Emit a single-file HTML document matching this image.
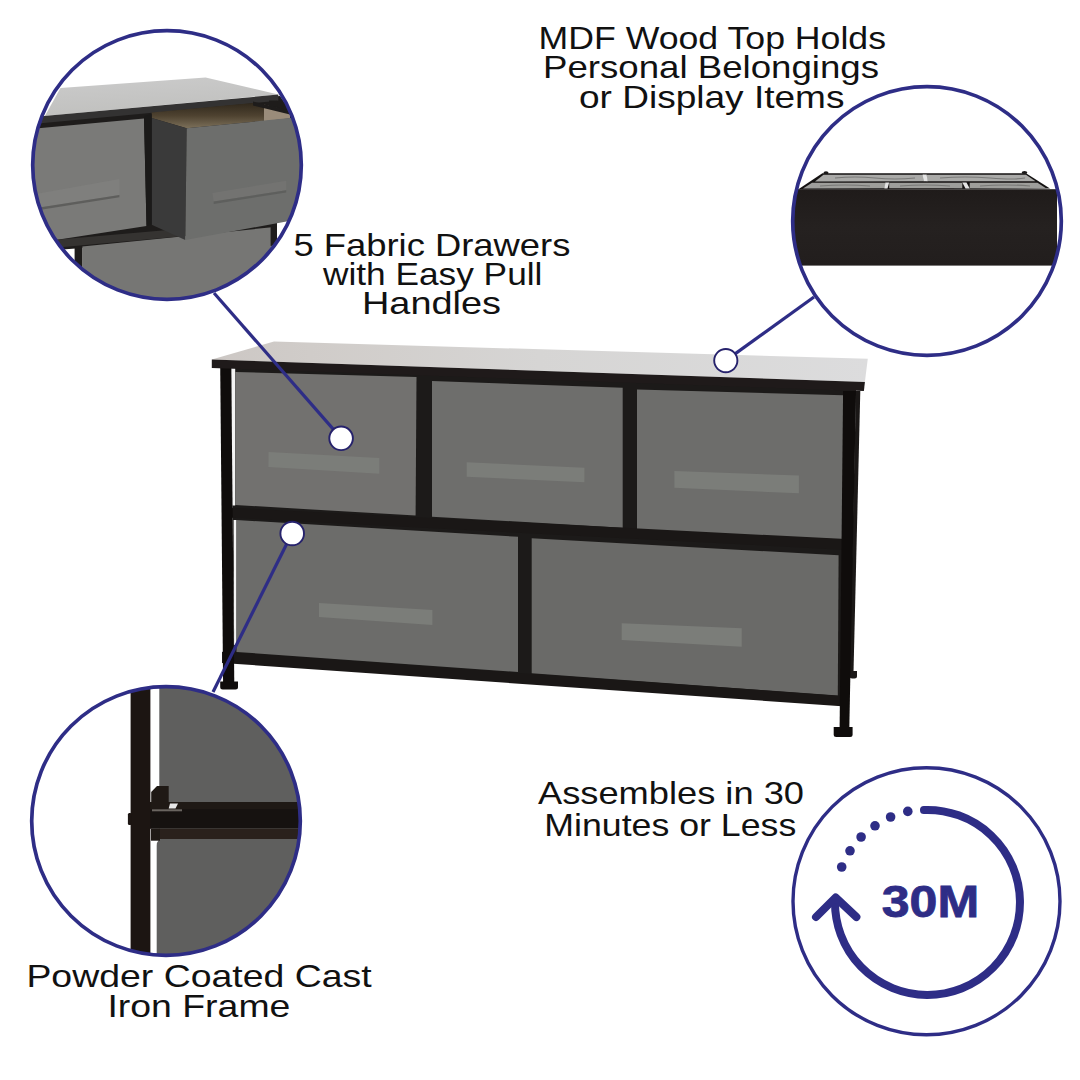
<!DOCTYPE html>
<html><head><meta charset="utf-8">
<style>
html,body{margin:0;padding:0;background:#fff;}
body{width:1080px;height:1080px;overflow:hidden;position:relative;font-family:"Liberation Sans",sans-serif;}
svg{position:absolute;left:0;top:0;}
.t{font-family:"Liberation Sans",sans-serif;fill:#111;font-size:31.5px;}
</style></head><body>
<svg width="1080" height="1080" viewBox="0 0 1080 1080">
<defs>
  <linearGradient id="topg" x1="0" y1="0" x2="1" y2="0">
    <stop offset="0" stop-color="#ccc7c4"/>
    <stop offset="0.15" stop-color="#d0ccc9"/>
    <stop offset="0.5" stop-color="#d6d5d4"/>
    <stop offset="1" stop-color="#dcdcdd"/>
  </linearGradient>
  <linearGradient id="c1top" x1="0" y1="0" x2="0.3" y2="1">
    <stop offset="0" stop-color="#cbcbcb"/>
    <stop offset="1" stop-color="#c0c0be"/>
  </linearGradient>
  <linearGradient id="c2band" x1="0" y1="0" x2="0" y2="1">
    <stop offset="0" stop-color="#1f1b1a"/>
    <stop offset="0.5" stop-color="#252120"/>
    <stop offset="1" stop-color="#221e1d"/>
  </linearGradient>
  <linearGradient id="c1int" x1="0" y1="0" x2="0" y2="1">
    <stop offset="0" stop-color="#30281c"/>
    <stop offset="0.5" stop-color="#4e4230"/>
    <stop offset="1" stop-color="#7c705a"/>
  </linearGradient>
  <clipPath id="c1"><circle cx="167" cy="165" r="134"/></clipPath>
  <clipPath id="c2"><circle cx="927" cy="221" r="134"/></clipPath>
  <clipPath id="c3"><circle cx="166" cy="821" r="134"/></clipPath>
</defs>

<!-- ============ MAIN DRESSER ============ -->
<g id="dresser">
  <!-- back right leg + foot -->
  <polygon points="856,391 860.3,391 853.5,672 849.3,672" fill="#1b1817"/>
  <path d="M849.6,671 h7.4 v5 q0,2.5 -2.5,2.5 h-2.4 q-2.5,0 -2.5,-2.5z" fill="#1b1817"/>
  <!-- back fill (frame interior) -->
  <polygon points="231,366 856,390 849,702 234,660" fill="#1c1a19"/>
  <!-- white gaps near left leg -->
  <polygon points="231.2,368 235.2,368 235.2,505.5 231.5,505.5" fill="#f4f4f4"/>
  <polygon points="233.6,520 236.5,520 236.5,645 234.1,645" fill="#f4f4f4"/>
  <!-- drawers top row -->
  <polygon points="235.2,372 416.5,377 415.6,515.6 235.2,505" fill="#72716f"/>
  <polygon points="432,381 622.7,387.8 622.7,527.8 432,516.7" fill="#6e6e6c"/>
  <polygon points="637,389.5 843.1,395.3 843.3,539.6 637,530" fill="#6d6d6b"/>
  <!-- drawers bottom row -->
  <polygon points="236.5,520 518,536.8 518,672 236.5,651.9" fill="#6c6c6a"/>
  <polygon points="531.7,538.3 838.6,555.3 837.8,695.6 531.7,673.3" fill="#6a6a68"/>
  <!-- handles -->
  <g fill="#7b7d79">
    <polygon points="268.6,452 379.3,458 379.3,473.7 268.4,467.1"/>
    <polygon points="466.7,462.2 584.4,467.8 584.4,482.2 466.7,476.7"/>
    <polygon points="674.4,471.1 798.9,475.6 798.9,493.3 674.4,487.8"/>
    <polygon points="319,602.9 432.4,610.1 432.4,624.9 319,617"/>
    <polygon points="621.7,623.3 741.7,628.3 741.7,646.7 621.7,640"/>
  </g>
  <!-- middle rail -->
  <polygon points="222,507.3 846,539.1 846,549.9 222,517.2" fill="#1a1716"/>
  <!-- bottom rail -->
  <polygon points="222,651.8 849,696.4 849,706.7 222,663" fill="#1a1716"/>
  <!-- left leg + foot -->
  <polygon points="220.2,366 231.2,366 234.3,684 223.1,684" fill="#0f0c0b"/>
  <path d="M220.2,681.5 h17.8 v5.6 q0,2.5 -2.5,2.5 h-12.8 q-2.5,0 -2.5,-2.5z" fill="#0f0c0b"/>
  <!-- right front leg + foot -->
  <polygon points="843.1,391 856,391 849.3,729 839.6,729" fill="#0f0c0b"/>
  <path d="M833.7,727 h18.9 v7.5 q0,2.5 -2.5,2.5 h-13.9 q-2.5,0 -2.5,-2.5z" fill="#0f0c0b"/>
  <!-- top board -->
  <polygon points="274,341.5 867.8,358.8 864.9,382 211.8,359.6" fill="url(#topg)"/>
  <polygon points="211.8,359.6 864.9,382 863.9,391.1 211.8,368" fill="#1f1a1a"/>
</g>

<!-- ============ CONNECTOR LINES ============ -->
<g stroke="#2e2d86" stroke-width="3.2" fill="none">
  <line x1="214" y1="293" x2="341.3" y2="438.4"/>
  <line x1="814" y1="297" x2="726" y2="360.4"/>
  <line x1="292" y1="533.3" x2="213" y2="692"/>
</g>
<g fill="#fff" stroke="#26226c" stroke-width="1.9">
  <circle cx="341.1" cy="438.3" r="11.8"/>
  <circle cx="725.8" cy="360.6" r="11.6"/>
  <circle cx="292.2" cy="533.5" r="11.8"/>
</g>

<!-- ============ CIRCLE 1 (drawers detail) ============ -->
<g clip-path="url(#c1)">
  <rect x="30" y="30" width="280" height="280" fill="#fff"/>
  <!-- top surface -->
  <polygon points="60.5,87.9 205.6,77.5 278.3,94.5 44.9,115.9" fill="url(#c1top)"/>
  <!-- cavity -->
  <polygon points="30,118 280,96 292,113 292,232 30,252" fill="#1e1c1b"/>
  <!-- top board front edge -->
  <polygon points="30,117.2 278.3,94.6 278.3,100.8 30,124.3" fill="#333232"/>
  <!-- closed drawer -->
  <polygon points="30,129 144,118.6 146.5,226 30,244" fill="#7a7a78"/>
  <polygon points="30,195 119.4,179 119.4,195 30,209" fill="#7f7f7d"/>
  <polygon points="30,209 119.4,195 119.4,197.2 30,211.5" fill="#5e5e5c"/>
  <!-- lower drawer -->
  <polygon points="82.2,246.4 271.9,227.3 272,310 82.2,310" fill="#767674"/>
  <polygon points="74.6,246 82.2,245.5 82.2,300 74.6,300" fill="#1e1c1b"/>
  <polygon points="270.6,222 277,221 277,245 270.6,246" fill="#1e1c1b"/>
  <polygon points="277,219 300,217 300,250 277,250" fill="#fff"/>
  <!-- rail below closed drawer -->
  <polygon points="30,242 185,228.5 185,236 30,250" fill="#353331"/>
  <!-- beige interior -->
  <polygon points="151.7,112.5 228,105.3 253,103 290,111.5 290,118.3 186.7,128.3 151.7,118" fill="url(#c1int)"/>
  <polygon points="264,104.5 290,111.5 290,118.3 264,121.2" fill="#9a8c7a"/>
  <polygon points="253,101.5 290,110.5 290,114.5 253,105.5" fill="#1e1c1b"/>
  <polygon points="269,100.5 277.5,100.5 277.5,106.7 269,106.7" fill="#1e1c1b"/>
  <!-- open drawer side -->
  <polygon points="151.7,118 186.7,128.3 185.3,240 151.7,224.7" fill="#3a3a3a"/>
  <!-- open drawer front -->
  <polygon points="186.7,128.3 300,117 300,219 185.3,240" fill="#6d6e6c"/>
  <polygon points="212.4,193 286.2,180.8 286.2,190.2 213.7,201.6" fill="#737371"/>
  <polygon points="213.7,201.6 286.2,190.2 286.2,192.5 213.7,204" fill="#5e5f5d"/>
  <!-- vertical gap between drawers -->
  <polygon points="144,116 151.7,114 151.7,224.7 146.5,226" fill="#1b1a19"/>
</g>
<circle cx="167" cy="165" r="134.3" fill="none" stroke="#2e2d86" stroke-width="3.7"/>

<!-- ============ CIRCLE 2 (top board edge) ============ -->
<g clip-path="url(#c2)">
  <rect x="790" y="85" width="275" height="275" fill="#fff"/>
  <!-- top frame -->
  <polygon points="822.4,173.3 1026,173.3 1050,188.5 798,189.5" fill="#141212"/>
  <ellipse cx="1024.5" cy="172.5" rx="2.8" ry="1.6" fill="#1a1818"/>
  <ellipse cx="826" cy="172.8" rx="2.5" ry="1.5" fill="#1a1818"/>
  <!-- back row panels -->
  <polygon points="823.5,174.8 923.5,174.8 923.5,181.2 815,181.4" fill="#aaaaa8"/>
  <polygon points="926.7,174.8 1026,174.8 1035.5,181.2 926.7,181.2" fill="#aaaaa8"/>
  <!-- front row panels -->
  <polygon points="812,182.8 885.3,182.8 885.3,188.3 803,188.5" fill="#9e9e9c"/>
  <polygon points="889.2,182.8 962.3,182.8 962.3,188.3 889.2,188.3" fill="#9e9e9c"/>
  <polygon points="969.7,182.8 1037.5,182.8 1046,188.3 969.7,188.3" fill="#9e9e9c"/>
  <!-- streaks -->
  <g stroke="#6e6e6c" stroke-width="1.2" fill="none" opacity="0.8">
    <path d="M835,178 q20,-2 40,0 t40,0"/>
    <path d="M940,178 q25,-2 50,0 t35,0"/>
    <path d="M820,186 q25,-2 50,0"/>
    <path d="M900,186 q25,-2 50,0"/>
    <path d="M980,186 q25,-2 50,0"/>
  </g>
  <!-- white dividers -->
  <polygon points="922.7,174.5 926.7,174.5 927.5,181.2 923.5,181.2" fill="#e4e4e4"/>
  <polygon points="885.3,182.5 889.2,182.5 887.5,188.5 884.5,188.5" fill="#e4e4e4"/>
  <polygon points="962.3,182.5 966.5,182.5 969.7,188.5 965.5,188.5" fill="#e4e4e4"/>
  <!-- dark band -->
  <rect x="790" y="189.2" width="267" height="76.4" fill="url(#c2band)"/>
</g>
<circle cx="927" cy="221" r="134.3" fill="none" stroke="#2e2d86" stroke-width="3.7"/>

<!-- ============ CIRCLE 3 (frame detail) ============ -->
<g clip-path="url(#c3)">
  <rect x="30" y="685" width="275" height="275" fill="#fff"/>
  <!-- upper fabric -->
  <rect x="159.3" y="680" width="150" height="122.5" fill="#5f5f5e"/>
  <!-- lower fabric -->
  <path d="M156.7,846 q0,-8 8,-8 h150 v130 h-158z" fill="#5f5f5e"/>
  <!-- shelf dark above bar -->
  <rect x="150" y="802" width="160" height="9" fill="#1f1915"/>
  <!-- bracket -->
  <polygon points="151.2,792 157,786 168.7,786 168.7,808 151.2,808" fill="#1f1915"/>
  <polygon points="170,803.4 178,803.4 175.5,808.6 168.7,808.6" fill="#e8e8e8"/>
  <!-- bar -->
  <rect x="150" y="809.3" width="160" height="19.5" fill="#161210"/>
  <rect x="152" y="809.3" width="30" height="2" fill="#6a6560"/>
  <!-- below bar -->
  <rect x="159.6" y="828.7" width="150" height="10.3" fill="#2a211c"/>
  <rect x="151" y="828.7" width="9" height="12" fill="#1f1915"/>
  <!-- leg -->
  <rect x="130.6" y="680" width="19.8" height="280" fill="#1c1512"/>
  <rect x="127.9" y="813" width="4" height="12" rx="1.5" fill="#1c1512"/>
</g>
<circle cx="166" cy="821" r="134.3" fill="none" stroke="#2e2d86" stroke-width="3.7"/>

<!-- ============ CLOCK ============ -->
<g fill="none" stroke="#2e2d86">
  <circle cx="926.5" cy="901.3" r="133.5" stroke-width="3.4"/>
  <path d="M924,810 A92.5,92.5 0 1 1 835,900" stroke-width="8" stroke-linecap="round"/>
  <path d="M816,917 L835.6,897.5 L856.4,917" stroke-width="8" stroke-linecap="round" stroke-linejoin="round"/>
</g>
<g fill="#2e2d86">
  <circle cx="907.8" cy="811.4" r="4.8"/>
  <circle cx="890.6" cy="817" r="4.8"/>
  <circle cx="875" cy="825.8" r="4.8"/>
  <circle cx="861.1" cy="837" r="4.8"/>
  <circle cx="850" cy="850.8" r="4.8"/>
  <circle cx="841.7" cy="867" r="4.8"/>
</g>
<text x="930.4" y="917" text-anchor="middle" font-family="Liberation Sans" font-weight="bold" font-size="45" fill="#2e2d86" stroke="#2e2d86" stroke-width="0.8" textLength="97.5" lengthAdjust="spacingAndGlyphs">30M</text>

<!-- ============ TEXT ============ -->
<g class="t" text-anchor="middle" lengthAdjust="spacingAndGlyphs">
  <text x="712.3" y="49.3" textLength="347.5" lengthAdjust="spacingAndGlyphs">MDF Wood Top Holds</text>
  <text x="711" y="78.4" textLength="336" lengthAdjust="spacingAndGlyphs">Personal Belongings</text>
  <text x="711.7" y="107.5" textLength="265.4" lengthAdjust="spacingAndGlyphs">or Display Items</text>
  <text x="431.9" y="255.6" textLength="277" lengthAdjust="spacingAndGlyphs">5 Fabric Drawers</text>
  <text x="432.7" y="285.3" textLength="219.4" lengthAdjust="spacingAndGlyphs">with Easy Pull</text>
  <text x="431.5" y="314.4" textLength="139" lengthAdjust="spacingAndGlyphs">Handles</text>
  <text x="199" y="986.7" textLength="345.2" lengthAdjust="spacingAndGlyphs">Powder Coated Cast</text>
  <text x="198.9" y="1016.7" textLength="183" lengthAdjust="spacingAndGlyphs">Iron Frame</text>
  <text x="671" y="804.2" textLength="266" lengthAdjust="spacingAndGlyphs">Assembles in 30</text>
  <text x="670.3" y="836.1" textLength="252" lengthAdjust="spacingAndGlyphs">Minutes or Less</text>
</g>
</svg>
</body></html>
